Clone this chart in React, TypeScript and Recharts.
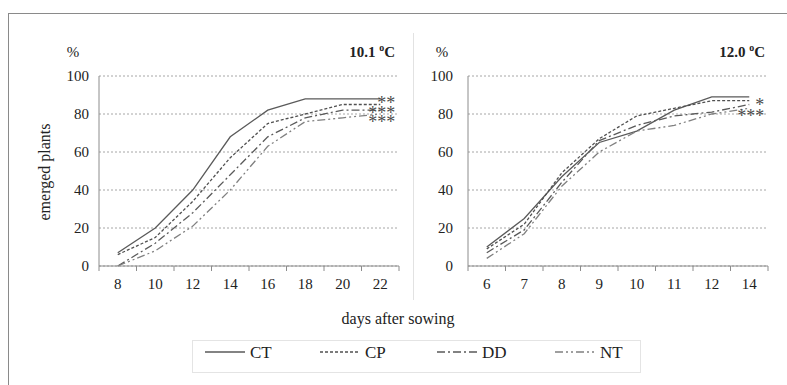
import React from 'react'
import { CartesianGrid, LabelList, Line, LineChart, XAxis, YAxis } from 'recharts'

// 10.1 °C panel
const days1 = ['8', '10', '12', '14', '16', '18', '20', '22']
const ct1 = [7, 20, 40, 68, 82, 88, 88, 88]
const cp1 = [6, 15, 34, 57, 75, 80, 85, 85]
const dd1 = [0, 12, 28, 48, 68, 78, 82, 82]
const nt1 = [0, 8, 21, 40, 63, 76, 78, 80]

// 12.0 °C panel
const days2 = ['6', '7', '8', '9', '10', '11', '12', '14']
const ct2 = [10, 25, 47, 65, 71, 82, 89, 89]
const cp2 = [9, 22, 49, 67, 79, 83, 87, 87]
const dd2 = [7, 19, 44, 66, 74, 79, 81, 85]
const nt2 = [4, 17, 42, 60, 71, 74, 80, 83]

const yTicks = [0, 20, 40, 60, 80, 100]

// significance marks at the end of the lines
const stars1: Record<string, string> = { CT: '**', DD: '***', NT: '***' }
const stars2: Record<string, string> = { CP: '*', NT: '***' }

const series = [
  { key: 'CT', color: '#5a5a5a', dash: undefined as string | undefined, width: 1.3 },
  { key: 'CP', color: '#505050', dash: '3 2', width: 1.3 },
  { key: 'DD', color: '#5a5a5a', dash: '8 3 2 3', width: 1.3 },
  { key: 'NT', color: '#808080', dash: '8 3 2 3 2 3', width: 1.3 },
]

const FONT = 'Liberation Serif, serif'
const PLOT_W = 300

const build = (days: string[], ct: number[], cp: number[], dd: number[], nt: number[]) =>
  days.map((d, i) => ({ day: d, CT: ct[i], CP: cp[i], DD: dd[i], NT: nt[i] }))

const data1 = build(days1, ct1, cp1, dd1, nt1)
const data2 = build(days2, ct2, cp2, dd2, nt2)

function CatTick(props: any) {
  const { x, y, payload, index, count } = props
  const half = PLOT_W / count / 2
  const axisY = y - 10
  return (
    <g>
      <line x1={x - half} x2={x - half} y1={axisY} y2={axisY + 5} stroke="#8c8c8c" />
      {index === count - 1 && <line x1={x + half} x2={x + half} y1={axisY} y2={axisY + 5} stroke="#8c8c8c" />}
      <text x={x} y={y} dy={13} textAnchor="middle" style={{ fontFamily: FONT }} fontSize={15} fill="#222">
        {payload.value}
      </text>
    </g>
  )
}

function starLabel(text: string, last: number, dx: number, dy: number) {
  return (p: any) => {
    if (p.index !== last) return null
    return (
      <text
        x={p.x + dx}
        y={p.y + dy + 10}
        textAnchor="end"
        style={{ fontFamily: FONT }}
        fontSize={18}
        fill="#4a4a4a"
      >
        {text}
      </text>
    )
  }
}

const starOffset1: Record<string, number> = { CT: 0, DD: -1, NT: 4 }
const starOffset2: Record<string, number> = { CP: 0, NT: 4 }

function Panel({ data, stars, offsets, ml, width, labelGap }: any) {
  const n = data.length
  const half = PLOT_W / n / 2
  return (
    <LineChart
      width={width}
      height={310}
      data={data}
      margin={{ top: 76, right: width - ml - 40 - PLOT_W, bottom: 14, left: ml }}
    >
      <CartesianGrid vertical={false} stroke="#a6a6a6" strokeDasharray="2 2" />
      <XAxis
        dataKey="day"
        height={30}
        stroke="#8c8c8c"
        tickLine={false}
        tickSize={6}
        tickMargin={4}
        interval={0}
        padding={{ left: half, right: half }}
        tick={(p: any) => <CatTick {...p} count={n} />}
      />
      <YAxis
        width={40}
        domain={[0, 100]}
        ticks={yTicks}
        stroke="#8c8c8c"
        tickLine={false}
        tickSize={4}
        tickMargin={labelGap}
        tick={{ fontFamily: FONT, fontSize: 15, fill: '#222' }}
        style={{ fontFamily: FONT }}
      />
      {series.map((s) => (
        <Line
          key={s.key}
          dataKey={s.key}
          type="linear"
          stroke={s.color}
          strokeWidth={s.width}
          strokeDasharray={s.dash}
          dot={false}
          isAnimationActive={false}
        >
          {stars[s.key] && (
            <LabelList dataKey={s.key} content={starLabel(stars[s.key], n - 1, 15, offsets[s.key] || 0)} />
          )}
        </Line>
      ))}
    </LineChart>
  )
}

export default function App() {
  const legendX = [205, 320, 437, 555]
  return (
    <div
      style={{
        position: 'absolute',
        left: 0,
        top: 0,
        width: 787,
        height: 385,
        background: '#fff',
        fontFamily: FONT,
      }}
    >
      <div style={{ position: 'absolute', left: 0, top: 0 }}>
        <Panel data={data1} stars={stars1} offsets={starOffset1} ml={59} width={410} labelGap={6} />
      </div>
      <div style={{ position: 'absolute', left: 410, top: 0 }}>
        <Panel data={data2} stars={stars2} offsets={starOffset2} ml={18} width={370} labelGap={11} />
      </div>
      <svg
        width={787}
        height={385}
        style={{ position: 'absolute', left: 0, top: 0, pointerEvents: 'none', fontFamily: FONT }}
      >
        <line x1={8} x2={787} y1={13.5} y2={13.5} stroke="#8a8a8a" />
        <line x1={8.5} x2={8.5} y1={13} y2={385} stroke="#8a8a8a" />
        <line x1={413.5} x2={413.5} y1={33} y2={300} stroke="#e2e2e2" />
        <text x={73} y={57} textAnchor="middle" fontSize={15} fill="#222">%</text>
        <text x={442} y={57} textAnchor="middle" fontSize={15} fill="#222">%</text>
        <text x={395} y={57} textAnchor="end" fontSize={15} fontWeight="bold" fill="#222">
          10.1 <tspan fontSize={10} dy={-6}>o</tspan><tspan dy={6}>C</tspan>
        </text>
        <text x={765} y={57} textAnchor="end" fontSize={15} fontWeight="bold" fill="#222">
          12.0 <tspan fontSize={10} dy={-6}>o</tspan><tspan dy={6}>C</tspan>
        </text>
        <text x={50} y={172} textAnchor="middle" fontSize={16} fill="#222" transform="rotate(-90 50 172)">
          emerged plants
        </text>
        <text x={398} y={324} textAnchor="middle" fontSize={16} fill="#222">days after sowing</text>
        <rect x={192.5} y={340.5} width={448} height={32} fill="none" stroke="#e4e4e4" />
        {series.map((s, i) => (
          <g key={s.key}>
            <line
              x1={legendX[i]}
              x2={legendX[i] + 40}
              y1={352}
              y2={352}
              stroke={s.color}
              strokeWidth={1.5}
              strokeDasharray={s.dash}
            />
            <text x={legendX[i] + 45} y={358} fontSize={17} fill="#222">{s.key}</text>
          </g>
        ))}
      </svg>
    </div>
  )
}
